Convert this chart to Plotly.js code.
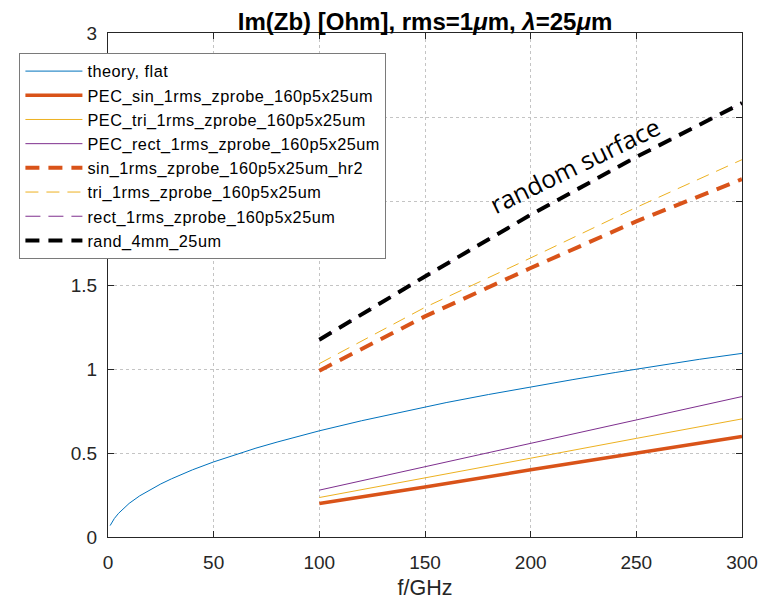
<!DOCTYPE html>
<html><head><meta charset="utf-8">
<script src="https://cdn.plot.ly/plotly-3.0.1.min.js"></script>
<style>body{margin:0;background:#fff;} .legendtext{letter-spacing:0.5px;}</style>
</head><body><div id="chart" style="width:765px;height:604px;"></div>
<script>
// frequencies (GHz) and Im(Zb) values (Ohm)
const fTheory = [1,2,3,5,7,10,15,20,25,30,40,50,60,70,80,90,100,120,140,160,180,200,220,240,260,280,300];
const imTheory = [0.068,0.09,0.11,0.141,0.167,0.200,0.245,0.283,0.316,0.346,0.400,0.447,0.490,0.529,0.565,0.600,0.632,0.692,0.748,0.800,0.848,0.894,0.937,0.979,1.019,1.058,1.093];
const fSim = [100,150,200,250,300];
const pecSin = [0.200,0.297,0.400,0.500,0.598];
const pecTri = [0.235,0.350,0.469,0.587,0.703];
const pecRect = [0.279,0.418,0.557,0.697,0.836];
const sinHr2 = [0.990,1.313,1.601,1.879,2.130];
const triDash = [1.032,1.367,1.661,1.962,2.246];
const rectDash = [1.172,1.551,1.917,2.262,2.583];
const rand4mm = [1.174,1.551,1.918,2.262,2.583];
const names = ['theory, flat','PEC_sin_1rms_zprobe_160p5x25um','PEC_tri_1rms_zprobe_160p5x25um','PEC_rect_1rms_zprobe_160p5x25um','sin_1rms_zprobe_160p5x25um_hr2','tri_1rms_zprobe_160p5x25um','rect_1rms_zprobe_160p5x25um','rand_4mm_25um'];
const xTicks = [0,50,100,150,200,250,300];
const yTicks = [0,0.5,1,1.5,2,2.5,3];
const annText = 'random surface';

const blue='#0072BD', orange='#D95319', yellow='#EDB120', purple='#7E2F8E';
const traces = [
  {x:fTheory, y:imTheory, name:names[0], line:{color:blue, width:1}},
  {x:fSim, y:pecSin, name:names[1], line:{color:orange, width:3.5}},
  {x:fSim, y:pecTri, name:names[2], line:{color:yellow, width:1}},
  {x:fSim, y:pecRect, name:names[3], line:{color:purple, width:1}},
  {x:fSim, y:sinHr2, name:names[4], line:{color:orange, width:4, dash:'14px,9px'}},
  {x:fSim, y:triDash, name:names[5], line:{color:yellow, width:1, dash:'13px,8px'}},
  {x:fSim, y:rectDash, name:names[6], line:{color:purple, width:1, dash:'15px,8px'}},
  {x:fSim, y:rand4mm, name:names[7], line:{color:'#000000', width:4, dash:'14px,9px'}}
].map(t => Object.assign({type:'scatter', mode:'lines'}, t));

const axisCommon = {
  showline:true, linecolor:'#262626', linewidth:1, mirror:'allticks',
  ticks:'inside', ticklen:6, tickcolor:'#262626',
  showgrid:true, gridcolor:'#c4c4c4', griddash:'dot', gridwidth:1,
  zeroline:false, tickfont:{family:'Liberation Sans, Arial', size:19, color:'#262626'}
};
const layout = {
  width:765, height:604,
  margin:{l:107.6, r:23.3, t:33.3, b:66.7},
  paper_bgcolor:'#fff', plot_bgcolor:'#fff',
  title:{text:'Im(Zb) [Ohm], rms=1<i>μ</i>m, <i>λ</i>=25<i>μ</i>m', x:0.5, xref:'paper', xanchor:'center',
         y:1-22/604, yref:'container', yanchor:'middle',
         font:{family:'Liberation Sans, Arial', size:24, color:'#000', weight:'bold'}},
  xaxis:Object.assign({}, axisCommon, {range:[0,300], tickvals:xTicks, ticklabelstandoff:8,
        title:{text:'f/GHz', standoff:8, font:{family:'Liberation Sans, Arial', size:21.5, color:'#262626'}}}),
  yaxis:Object.assign({}, axisCommon, {range:[0,3], tickvals:yTicks, ticklabelstandoff:6}),
  showlegend:true,
  legend:{x:(19-107.6)/634.1, y:(537.3-53.3)/504, xanchor:'left', yanchor:'top',
          bgcolor:'#ffffff', bordercolor:'#7a7a7a', borderwidth:1,
          font:{family:'Liberation Sans, Arial', size:16.3, color:'#000'}, itemwidth:57, tracegroupgap:0},
  annotations:[{x:220.7, y:2.216, xref:'x', yref:'y', text:annText, showarrow:false, textangle:-26,
               xanchor:'center', yanchor:'middle', font:{family:'Open Sans', size:25, color:'#000'}}]
};
Plotly.newPlot('chart', traces, layout, {displayModeBar:false, staticPlot:true});
</script></body></html>
